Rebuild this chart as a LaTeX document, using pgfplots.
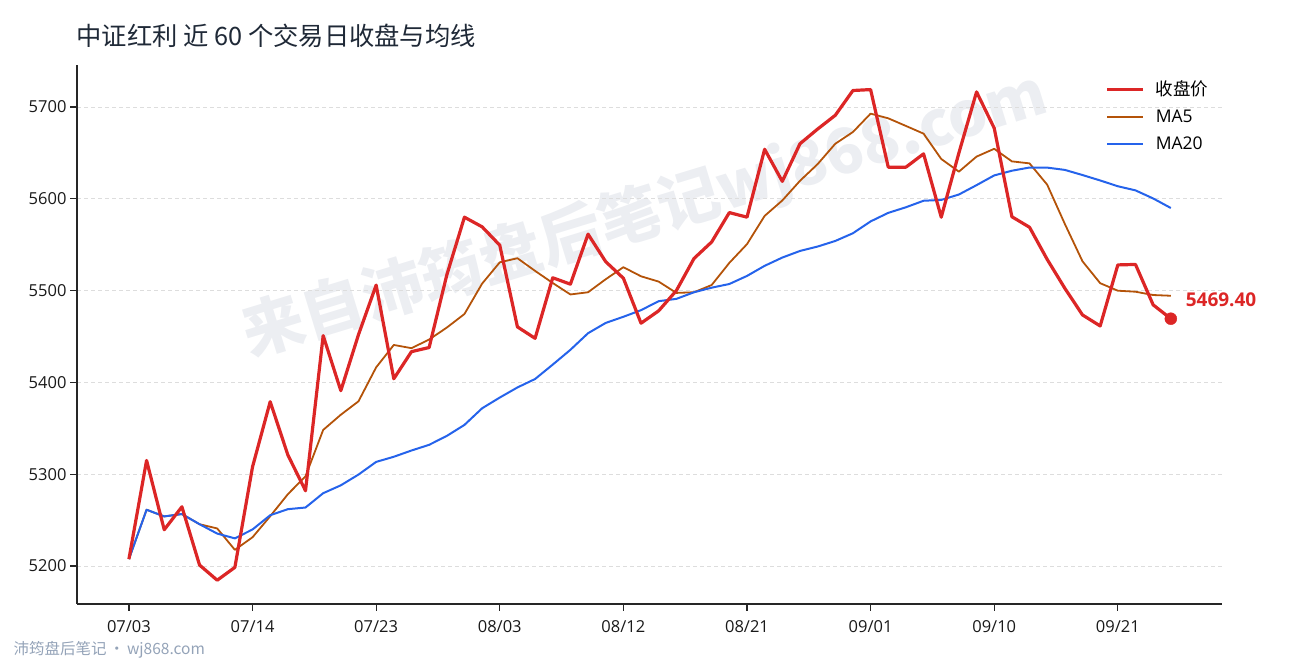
\documentclass[border=0pt]{standalone}
\usepackage{fontspec}
\setmainfont{Open Sans}
\newfontfamily\cjk{Noto Sans CJK SC}
\usepackage{pgfplots}
\usepackage{pgfplotstable}
\pgfplotsset{compat=1.18}

\definecolor{closered}{HTML}{DC2626}
\definecolor{maorange}{HTML}{B45309}
\definecolor{mablue}{HTML}{2563EB}
\definecolor{titlegray}{HTML}{1F2937}
\definecolor{footgray}{HTML}{94A3B8}
\definecolor{wmgray}{HTML}{ECEEF2}
\definecolor{gridgray}{HTML}{DDDDDD}

% idx = trading day, close / MA5 / MA20
\pgfplotstableread{
idx close ma5 ma20
0 5207.5 5207.5 5207.5
1 5315.0 5261.3 5261.3
2 5239.5 5254.0 5254.0
3 5264.5 5256.6 5256.6
4 5201.0 5245.5 5245.5
5 5184.5 5240.9 5235.3
6 5198.5 5217.6 5230.1
7 5308.0 5231.3 5239.8
8 5379.0 5254.2 5255.3
9 5321.0 5278.2 5261.9
10 5282.0 5297.7 5263.7
11 5451.0 5348.2 5279.3
12 5391.0 5364.8 5287.9
13 5452.0 5379.4 5299.6
14 5506.0 5416.4 5313.4
15 5404.0 5440.8 5319.0
16 5433.5 5437.3 5325.8
17 5438.0 5446.7 5332.0
18 5517.0 5459.7 5341.7
19 5580.0 5474.5 5353.7
20 5569.5 5507.6 5371.8
21 5549.5 5530.8 5383.5
22 5460.5 5535.3 5394.5
23 5448.0 5521.5 5403.7
24 5514.0 5508.3 5419.4
25 5507.0 5495.8 5435.5
26 5561.5 5498.2 5453.6
27 5531.5 5512.4 5464.8
28 5513.5 5525.5 5471.5
29 5464.5 5515.6 5478.7
30 5478.0 5509.8 5488.5
31 5500.0 5497.5 5491.0
32 5535.0 5498.2 5498.2
33 5553.0 5506.1 5503.2
34 5585.0 5530.2 5507.2
35 5580.0 5550.6 5516.0
36 5654.0 5581.4 5527.0
37 5619.0 5598.2 5536.0
38 5660.0 5619.6 5543.2
39 5676.0 5637.8 5548.0
40 5691.0 5660.0 5554.1
41 5718.0 5672.8 5562.5
42 5719.0 5692.8 5575.4
43 5634.5 5687.7 5584.7
44 5634.5 5679.4 5590.8
45 5649.0 5671.0 5597.9
46 5580.0 5643.4 5598.8
47 5650.0 5629.6 5604.7
48 5716.5 5646.0 5614.9
49 5677.0 5654.5 5625.5
50 5580.5 5640.8 5630.6
51 5569.0 5638.6 5634.1
52 5534.0 5615.4 5634.0
53 5502.5 5572.6 5631.5
54 5473.5 5531.9 5625.9
55 5461.5 5508.1 5620.0
56 5528.0 5499.9 5613.7
57 5528.5 5498.8 5609.2
58 5484.5 5495.2 5600.4
59 5469.4 5494.4 5590.0
}\mydata

\begin{document}
\begin{tikzpicture}
\path[use as bounding box] (0pt,0pt) rectangle (1290pt,660pt);

% watermark
\node[rotate=17, text=wmgray, font=\cjk\bfseries\fontsize{62}{70}\selectfont] at (645pt,445pt) {来自沛筠盘后笔记wj868.com};

\node[anchor=west, text=titlegray, font=\cjk\fontsize{25.3}{30}\selectfont] at (73pt,624pt) {中证红利 近 60 个交易日收盘与均线};
\node[anchor=west, text=footgray, font=\cjk\fontsize{15.5}{18}\selectfont] at (10pt,10pt) {沛筠盘后笔记\,·\,wj868.com};

\begin{axis}[
    at={(77pt,56pt)}, anchor=south west,
    width=1145pt, height=539pt, scale only axis,
    xmin=-2.94, xmax=61.9,
    ymin=5158.6, ymax=5745.8,
    axis x line*=bottom, axis y line*=left,
    axis line style={line width=1.5pt, black!85},
    tick align=outside, major tick length=7pt,
    tick style={line width=1.2pt, black!85},
    xtick={0,7,...,56},
    xticklabels={07/03,07/14,07/23,08/03,08/12,08/21,09/01,09/10,09/21},
    ytick={5200,5300,...,5700},
    /pgf/number format/1000 sep={},
    /pgf/number format/assume math mode=true,
    tick label style={font=\fontsize{16.5}{19}\selectfont, text=black!90},
    xticklabel style={yshift=-6pt},
    ymajorgrids,
    grid style={dash pattern=on 4pt off 3pt, gridgray, line width=0.8pt},
    clip=false,
    legend style={at={(0.8955,0.978)}, anchor=north west, draw=none, fill=none,
        font=\fontsize{17.5}{21}\selectfont, row sep=8.5pt,
        /tikz/every odd column/.append style={column sep=9pt}},
    legend cell align=left,
    legend image code/.code={\draw[#1] (0pt,0pt) -- (36pt,0pt);},
]
\addlegendimage{closered, line width=3.2pt}
\addlegendentry{\cjk 收盘价}
\addlegendimage{maorange, line width=2pt}
\addlegendentry{MA5}
\addlegendimage{mablue, line width=2pt}
\addlegendentry{MA20}

\addplot[maorange, line width=1.8pt, line join=round, forget plot] table[x=idx, y=ma5] {\mydata};
\addplot[mablue, line width=2pt, line join=round, forget plot] table[x=idx, y=ma20] {\mydata};
\addplot[closered, line width=3.2pt, line join=round, forget plot] table[x=idx, y=close] {\mydata};
\addplot[closered, only marks, mark=*, mark size=6pt, forget plot] coordinates {(59,5469.4)};

\node[anchor=west, text=closered, font=\bfseries\fontsize{19}{22}\selectfont] at (axis cs:59.65,5490) {5469.40};
\end{axis}
\end{tikzpicture}
\end{document}
